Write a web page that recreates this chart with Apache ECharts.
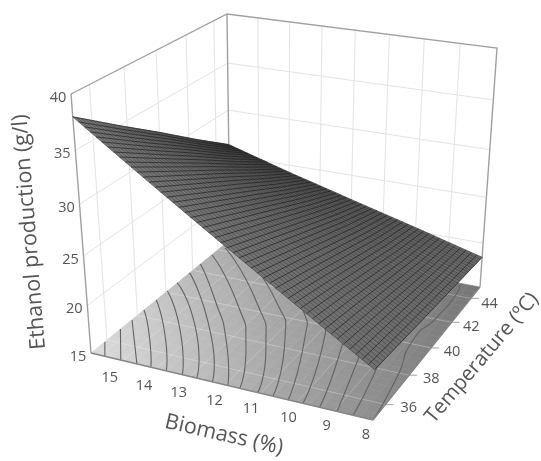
<!DOCTYPE html><html><head><meta charset="utf-8"><style>html,body{margin:0;background:#fff}#c{width:541px;height:461px}canvas{filter:blur(.5px)}</style>
<script src="https://cdn.jsdelivr.net/npm/echarts@6/dist/echarts.min.js"></script></head><body><div id="c"></div><script>
// ---- data ----
const biomassRange=[8,16], temperatureRange=[35,45], ethanolRange=[15,40];
const biomassTicks=[15,14,13,12,11,10,9,8];
const temperatureTicks=[36,38,40,42,44];
const ethanolTicks=[40,35,30,25,20,15];
const surfaceBiomass=[8,10,12,14,16];
const surfaceTemperature=[35,37.5,40,42.5,45];
const ethanolAt35=[20.0,24.5,29.0,33.5,38.0];
const ethanolAt375=[19.6,23.5,27.3,31.2,35.0];
const ethanolAt40=[19.2,22.4,25.6,28.9,32.1];
const ethanolAt425=[18.8,21.3,23.9,26.5,29.1];
const ethanolAt45=[18.4,20.4,22.3,24.2,26.2];
const ethanolRows=[ethanolAt35,ethanolAt375,ethanolAt40,ethanolAt425,ethanolAt45];
const contours=[
[[15.57,35],[15.99,35.85]],
[[15.08,35],[16,36.87]],
[[14.59,35],[15.99,37.62]],
[[14.17,35],[15.11,36.91],[16,38.45]],
[[13.71,35],[14.72,37.13],[16,39.31]],
[[13.24,35],[14.49,37.66],[16,40.1]],
[[12.82,35],[14.1,37.89],[16,40.84]],
[[12.37,35],[13.59,37.78],[16,41.76]],
[[11.93,35],[13.09,37.68],[14.48,40.17],[16,42.6]],
[[11.59,35],[12.48,37.64],[13.75,40.16],[15.99,43.49]],
[[11.09,35],[11.95,37.79],[13.32,40.58],[15.87,44.26]],
[[10.67,35],[11.73,38.69],[12.81,40.87],[14.72,43.52]],
[[10.25,35],[11.25,38.97],[11.96,40.75],[13.24,42.66]],
[[9.85,35],[10.81,39.38],[11.49,41.03]],
[[9.4,35],[10.17,38.97],[10.67,40.66]],
[[8.94,35],[9.48,38.24],[9.73,39.61]],
[[8.52,35],[8.84,37.74],[9.15,39.56]],
[[8,35],[8.24,37.74],[8.58,40.27],[8.46,42.17],[8.46,44.21],[8.56,44.86]]
];
// ---- 3D view: where the box corners fall on the page ----
const floorQuad=[[373,420],[91,353],[230,240],[480,287]];
const topQuad=[[382,146],[71,94],[227,14],[497,48]];
const depthK=0.9;
function H(q){const [x0,y0]=q[0],[x1,y1]=q[1],[x2,y2]=q[2],[x3,y3]=q[3];
 const dx1=x1-x2,dx2=x3-x2,sx=x0-x1+x2-x3,dy1=y1-y2,dy2=y3-y2,sy=y0-y1+y2-y3,den=dx1*dy2-dx2*dy1;
 const g=(sx*dy2-dx2*sy)/den,h=(dx1*sy-sx*dy1)/den;
 return {a:x1-x0+g*x1,b:x3-x0+h*x3,c:x0,d:y1-y0+g*y1,e:y3-y0+h*y3,f:y0,g,h};}
const mF=H(floorQuad),mT=H(topQuad);
const ap=(m,u,v)=>{const W=m.g*u+m.h*v+1;return [(m.a*u+m.b*v+m.c)/W,(m.d*u+m.e*v+m.f)/W];};
const U=b=>(b-biomassRange[0])/(biomassRange[1]-biomassRange[0]);
const V=t=>(t-temperatureRange[0])/(temperatureRange[1]-temperatureRange[0]);
const W=z=>(z-ethanolRange[0])/(ethanolRange[1]-ethanolRange[0]);
function proj(b,t,z){const u=U(b),v=V(t),w=W(z),F=ap(mF,u,v),T=ap(mT,u,v),s=w*depthK/(1-w+w*depthK);
 return [F[0]+(T[0]-F[0])*s,F[1]+(T[1]-F[1])*s];}
function surfaceZ(b,t){
 const seek=(arr,x)=>{let i=0;while(i<arr.length-2&&x>arr[i+1])i++;return [i,(x-arr[i])/(arr[i+1]-arr[i])];};
 const [i,p]=seek(surfaceBiomass,b),[j,q]=seek(surfaceTemperature,t),r=ethanolRows;
 return (r[j][i]*(1-p)+r[j][i+1]*p)*(1-q)+(r[j+1][i]*(1-p)+r[j+1][i+1]*p)*q;}
const [bA,bB]=biomassRange,[tA,tB]=temperatureRange,[zA,zB]=ethanolRange;
const gray=(g,a)=>`rgba(${g|0},${g|0},${g|0},${a===undefined?1:a})`;
const LABEL='#555555',FONT='"Open Sans"';
function mk(api){const C=p=>api.coord(p);
 return {
  line:(pts,stroke,lw,smooth)=>({type:'polyline',shape:{points:pts.map(C),smooth:smooth||0},style:{stroke,lineWidth:lw,fill:null}}),
  quad:(pts,c)=>({type:'polygon',shape:{points:pts.map(C)},style:{fill:c,stroke:c,lineWidth:.6}}),
  text:(p,text,size,rot,fill)=>{const q=C(p);return {type:'text',x:q[0],y:q[1],rotation:rot||0,style:{text,fill:fill||LABEL,font:`${size}px ${FONT}`,align:'center',verticalAlign:'middle'}};}
 };}
function series(id,fn,z){return {type:'custom',id,coordinateSystem:'cartesian2d',z,silent:true,clip:false,animation:false,data:[[0,0]],
  renderItem:(p,api)=>({type:'group',children:fn(mk(api))})};}
const wallLine='#e4e4e4',edge='#a0a0a0';
const walls=k=>{const o=[];
 ethanolTicks.slice(1,-1).forEach(z=>{
  o.push(k.line([proj(bB,tA,z),proj(bB,tB,z)],wallLine,1));
  o.push(k.line([proj(bB,tB,z),proj(bA,tB,z)],wallLine,1));});
 temperatureTicks.forEach(t=>o.push(k.line([proj(bB,t,zA),proj(bB,t,zB)],wallLine,1)));
 biomassTicks.filter(b=>b>bA).forEach(b=>o.push(k.line([proj(b,tB,zA),proj(b,tB,zB)],wallLine,1)));
 return o;};
function floorGray(u,v){
 const c00=142,c10=222,c11=170,c01=118;
 return (c00*(1-u)+c10*u)*(1-v)+(c01*(1-u)+c11*u)*v;}
const floor=k=>{const o=[],N=24;
 for(let i=0;i<N;i++)for(let j=0;j<N;j++){
  const b0=bA+(bB-bA)*i/N,b1=bA+(bB-bA)*(i+1)/N,t0=tA+(tB-tA)*j/N,t1=tA+(tB-tA)*(j+1)/N;
  o.push(k.quad([proj(b0,t0,zA),proj(b1,t0,zA),proj(b1,t1,zA),proj(b0,t1,zA)],gray(floorGray((i+.5)/N,(j+.5)/N))));}
 biomassTicks.forEach(b=>o.push(k.line([proj(b,tA,zA),proj(b,tB,zA)],'rgba(255,255,255,.16)',1)));
 temperatureTicks.forEach(t=>{o.push(k.line([proj(bA,t,zA),proj(bB,t,zA)],'rgba(255,255,255,.28)',1));
   const a=proj(bA,t,zA);o.push(k.line([a,[a[0]+8,a[1]]],'#b0b0b0',1.2));});
 contours.forEach(c=>o.push(k.line(c.map(p=>proj(p[0],p[1],zA)),'#636363',1.1,.7)));
 return o;};
const frame=k=>[
 k.line([proj(bB,tA,zB),proj(bB,tB,zB),proj(bA,tB,zB),proj(bA,tB,zA)],edge,1.4),
 k.line([proj(bB,tB,zB),proj(bB,tB,zA)],edge,1.4),
 k.line([proj(bB,tA,zB),proj(bB,tA,zA)],edge,1.4),
 k.line([proj(bB,tA,zA),proj(bA,tA,zA),proj(bA,tB,zA)],'#858585',1.3)];
function meshGray(u,v){const c00=112,c10=122,c11=62,c01=104;return (c00*(1-u)+c10*u)*(1-v)+(c01*(1-u)+c11*u)*v;}
const surface=k=>{const o=[],Nb=20,Nt=16,Lb=50,Lt=46;
 const P=(b,t)=>proj(b,t,surfaceZ(b,t));
 for(let i=0;i<Nb;i++)for(let j=0;j<Nt;j++){
  const b0=bA+(bB-bA)*i/Nb,b1=bA+(bB-bA)*(i+1)/Nb,t0=tA+(tB-tA)*j/Nt,t1=tA+(tB-tA)*(j+1)/Nt;
  o.push(k.quad([P(b0,t0),P(b1,t0),P(b1,t1),P(b0,t1)],gray(meshGray((i+.5)/Nb,(j+.5)/Nt))));}
 for(let i=0;i<=Lb;i++){const b=bA+(bB-bA)*i/Lb,pts=surfaceTemperature.map(t=>P(b,t));o.push(k.line(pts,'rgba(30,30,30,.75)',.9));}
 for(let j=0;j<=Lt;j++){const t=tA+(tB-tA)*j/Lt,pts=surfaceBiomass.map(b=>P(b,t));o.push(k.line(pts,'rgba(30,30,30,.55)',.6));}
 return o;};
const labels=k=>{const o=[];
 ethanolTicks.forEach(z=>{const p=proj(bB,tA,z);o.push(k.text([p[0]-13,p[1]+3.5],String(z),14.5));});
 biomassTicks.forEach(b=>{const p=proj(b,tA,zA),u=U(b);o.push(k.text([p[0]-7-7.5*u,p[1]+15+2.5*u],String(b),14.5));});
 temperatureTicks.forEach(t=>{const p=proj(bA,t,zA),v=V(t);o.push(k.text([p[0]+24-6*v,p[1]+3+2.5*v],String(t),14.5));});
 o.push(k.text([29.5,232],'Ethanol production (g/l)',21.5,1.65));
 o.push(k.text([224,435],'Biomass (%)',21.5,-0.225));
 o.push(k.text([482,358],'Temperature (ºC)',20.5,0.87));
 return o;};
const chart=echarts.init(document.getElementById('c'),null,{renderer:'canvas'});
chart.setOption({animation:false,backgroundColor:'#fff',
 grid:{left:0,right:0,top:0,bottom:0},
 xAxis:{type:'value',min:0,max:541,show:false},
 yAxis:{type:'value',min:0,max:461,inverse:true,show:false},
 series:[series('walls',walls,1),series('floor',floor,2),series('frame',frame,3),series('surface',surface,4),series('labels',labels,5)]});
</script></body></html>
